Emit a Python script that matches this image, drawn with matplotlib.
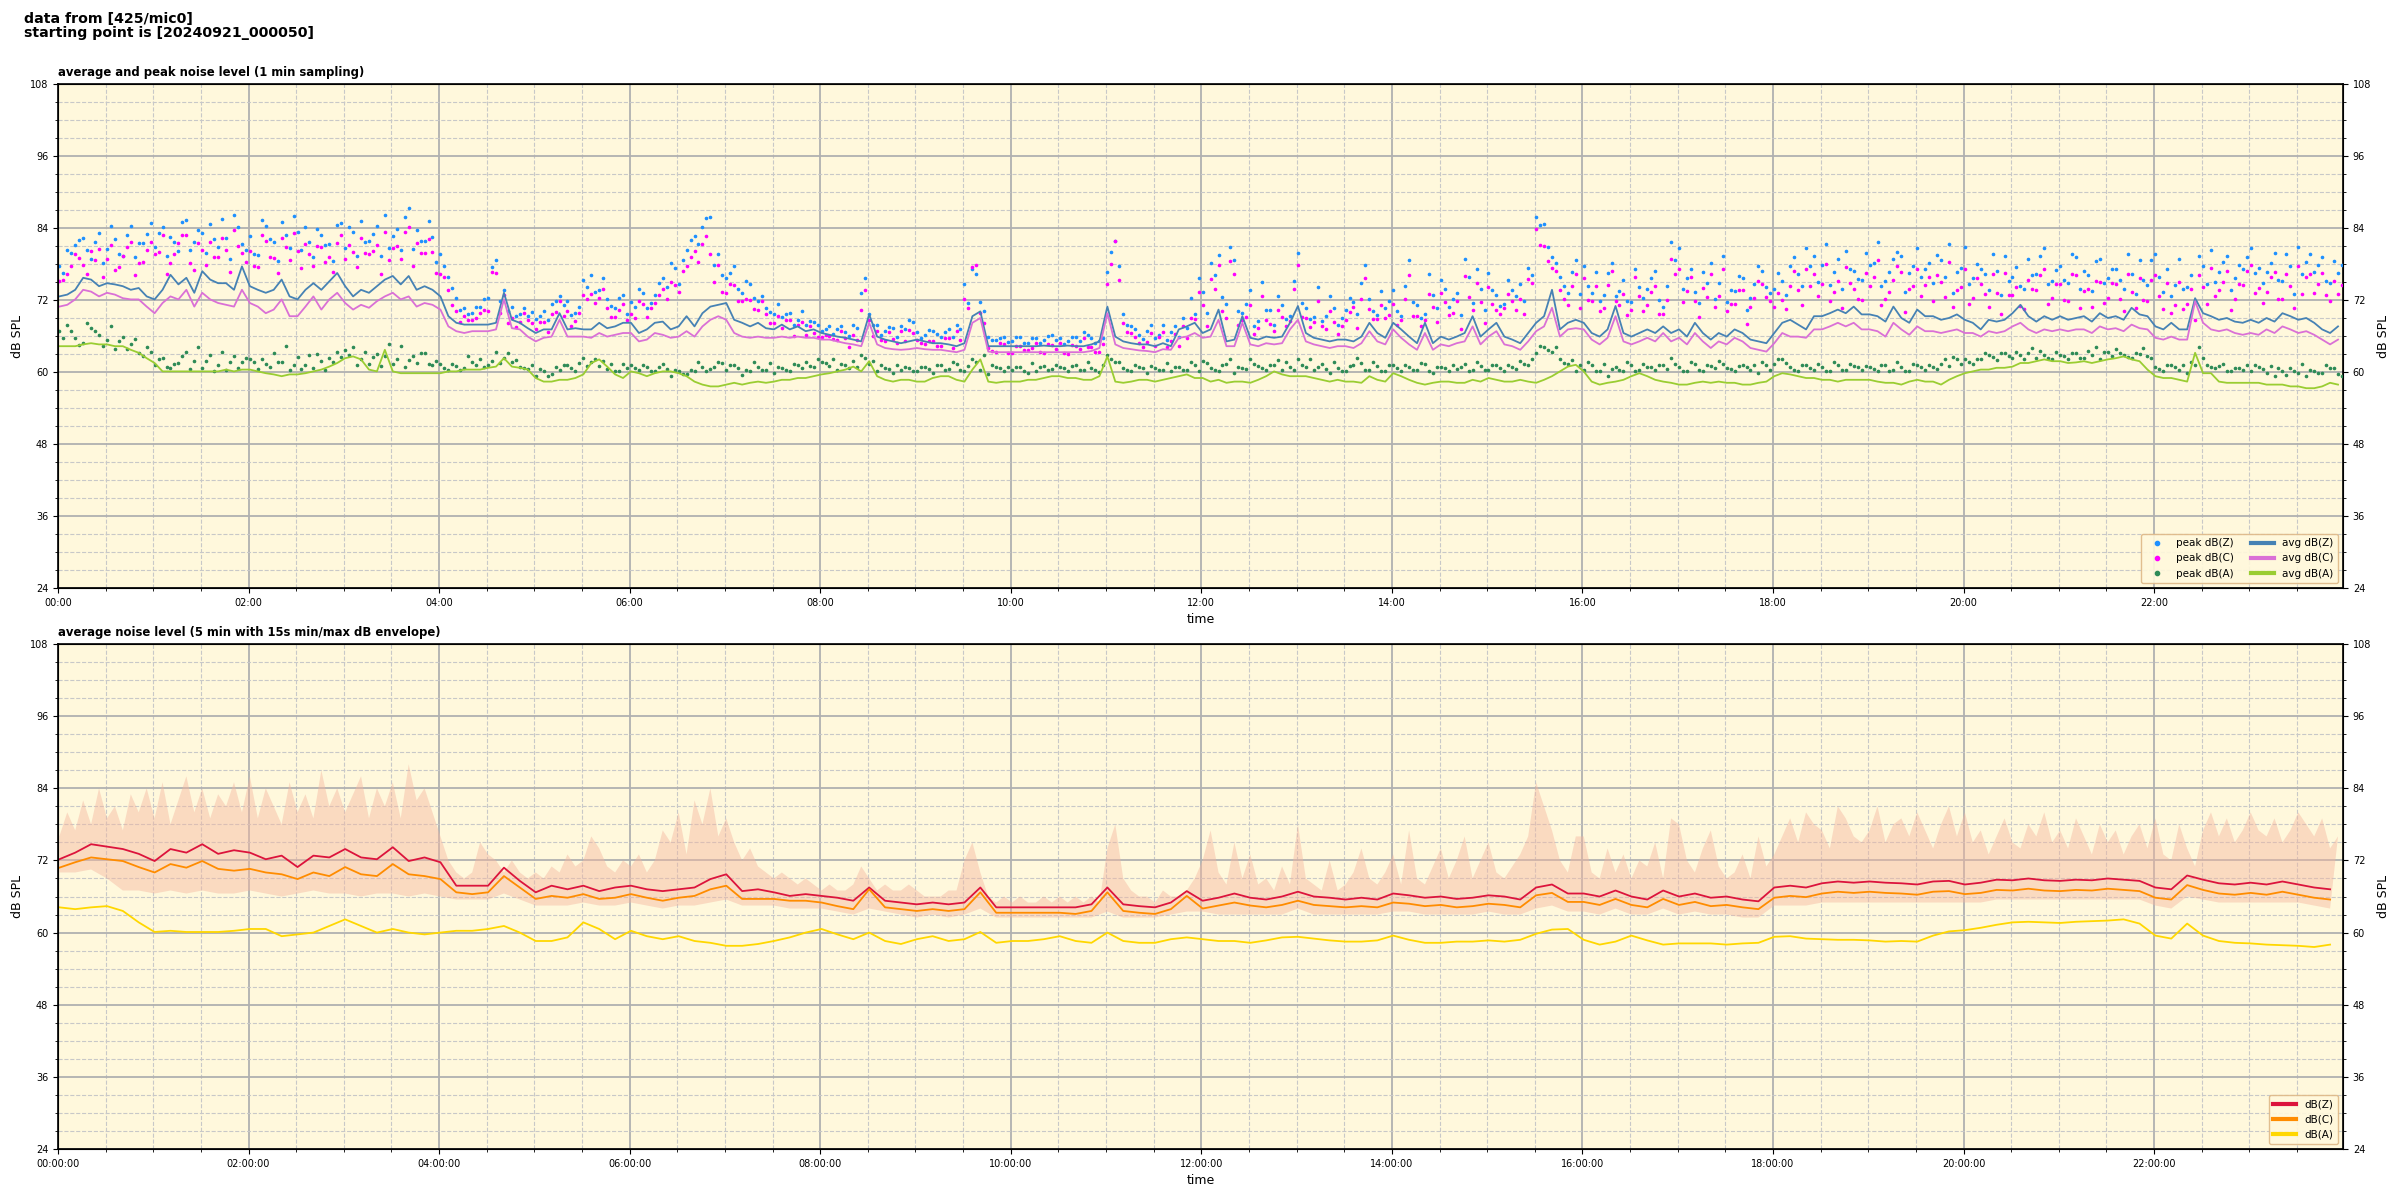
import numpy as np
import matplotlib
matplotlib.use("Agg")
import matplotlib.pyplot as plt
import matplotlib.dates as mdates
from matplotlib.ticker import MultipleLocator

# ---------------- data ----------------
# top panel: 1-min averages, given here at 5-min steps (rows = 1 hour, 12 values)
avg_z = [
    [72.6, 72.9, 73.7, 75.7, 75.4, 74.3, 74.8, 74.6, 74.3, 73.7, 74.0, 72.6],
    [72.1, 73.7, 76.2, 74.6, 75.7, 73.2, 76.8, 75.4, 74.8, 74.8, 73.7, 77.6],
    [74.3, 73.7, 73.2, 73.7, 75.4, 72.6, 72.1, 73.7, 74.8, 73.7, 75.1, 76.5],
    [74.3, 72.6, 73.7, 73.2, 74.3, 75.4, 76.0, 74.6, 76.0, 73.7, 74.3, 73.7],
    [72.6, 69.3, 68.2, 67.9, 67.9, 67.9, 67.9, 68.2, 73.2, 68.7, 68.2, 67.3],
    [66.5, 67.1, 67.1, 69.8, 67.1, 67.3, 67.1, 67.1, 68.2, 67.3, 67.6, 68.2],
    [68.2, 66.5, 67.1, 68.2, 68.4, 67.1, 67.6, 69.3, 67.6, 69.8, 70.9, 71.2],
    [71.5, 68.7, 68.2, 67.6, 68.2, 67.3, 67.1, 67.9, 67.1, 67.6, 66.8, 67.1],
    [66.5, 66.2, 65.9, 65.7, 65.4, 65.1, 69.6, 65.9, 65.4, 65.1, 64.8, 65.1],
    [65.4, 65.1, 64.8, 64.8, 64.6, 64.3, 64.8, 69.3, 70.1, 64.3, 64.3, 64.3],
    [64.3, 64.3, 64.3, 64.3, 64.4, 64.3, 64.3, 64.4, 64.3, 64.3, 64.6, 65.1],
    [70.9, 65.9, 65.1, 64.8, 64.6, 64.6, 64.3, 64.8, 64.3, 67.1, 67.6, 68.2],
    [66.5, 67.1, 70.4, 65.1, 65.4, 69.3, 65.7, 65.4, 65.9, 65.7, 65.9, 68.2],
    [71.0, 66.5, 65.7, 65.4, 65.1, 65.4, 65.4, 65.1, 65.9, 68.2, 66.5, 65.7],
    [68.2, 67.1, 65.9, 64.8, 68.2, 64.8, 65.9, 65.4, 65.9, 66.5, 69.3, 65.9],
    [67.1, 68.2, 65.9, 65.4, 64.8, 66.5, 68.2, 69.3, 73.7, 67.1, 68.2, 68.7],
    [68.2, 66.5, 65.9, 67.1, 71.0, 66.5, 65.9, 66.5, 67.1, 66.5, 67.6, 66.5],
    [67.1, 65.9, 68.2, 66.5, 65.4, 66.5, 65.9, 67.1, 66.5, 65.4, 65.1, 64.8],
    [66.5, 68.2, 68.7, 67.9, 67.1, 69.3, 69.3, 69.8, 70.4, 69.8, 70.9, 69.6],
    [69.6, 69.3, 68.4, 70.9, 69.0, 68.2, 70.4, 69.3, 69.3, 68.7, 69.0, 69.6],
    [68.7, 68.2, 67.1, 68.7, 68.4, 68.7, 69.8, 71.2, 69.3, 68.4, 69.3, 68.7],
    [69.3, 68.7, 69.0, 69.3, 68.4, 69.8, 69.0, 69.3, 68.7, 70.7, 69.6, 69.3],
    [67.6, 67.1, 68.2, 67.1, 67.1, 72.3, 69.8, 69.3, 68.7, 69.0, 68.4, 68.2],
    [68.7, 68.2, 69.0, 68.4, 69.8, 69.3, 68.7, 69.0, 68.2, 67.1, 66.5, 67.6],
]
avg_c = [
    [70.9, 71.2, 72.1, 73.7, 73.4, 72.6, 73.2, 72.9, 72.3, 72.1, 72.1, 70.9],
    [69.8, 71.5, 72.6, 72.1, 73.7, 70.9, 73.2, 72.1, 71.5, 71.2, 70.9, 73.7],
    [71.5, 70.9, 69.8, 70.4, 72.1, 69.3, 69.3, 70.9, 72.6, 70.4, 72.1, 73.2],
    [71.5, 70.4, 71.2, 70.7, 71.8, 72.6, 73.2, 72.1, 72.6, 70.9, 71.5, 71.2],
    [70.4, 67.6, 66.8, 66.5, 66.8, 66.8, 66.8, 67.1, 72.1, 67.3, 67.1, 65.9],
    [65.1, 65.7, 65.9, 68.7, 65.9, 65.9, 65.9, 65.7, 66.5, 65.9, 66.2, 66.5],
    [66.5, 65.1, 65.4, 66.5, 66.2, 65.7, 65.9, 66.8, 65.9, 67.6, 68.7, 69.3],
    [68.7, 66.5, 65.9, 65.7, 65.9, 65.7, 65.7, 65.9, 65.7, 65.9, 65.7, 65.7],
    [65.4, 65.4, 65.1, 64.8, 64.6, 64.3, 68.2, 64.6, 64.0, 63.8, 63.7, 63.8],
    [64.0, 63.8, 63.7, 63.7, 63.5, 63.3, 63.7, 68.2, 69.0, 63.4, 63.3, 63.3],
    [63.3, 63.3, 63.3, 63.3, 63.3, 63.3, 63.3, 63.3, 63.3, 63.3, 63.5, 64.0],
    [69.8, 64.6, 64.0, 63.8, 63.6, 63.5, 63.3, 63.8, 63.7, 65.7, 65.9, 66.5],
    [65.7, 65.9, 68.7, 64.3, 64.3, 68.2, 64.6, 64.3, 64.8, 64.6, 64.8, 67.1],
    [68.7, 65.1, 64.6, 64.3, 64.0, 64.3, 64.3, 64.0, 64.8, 66.8, 65.1, 64.6],
    [67.1, 65.7, 64.6, 63.7, 66.5, 63.7, 64.6, 64.3, 64.8, 65.1, 67.6, 64.6],
    [65.9, 66.8, 64.6, 64.3, 63.7, 65.1, 66.8, 67.6, 70.7, 65.9, 67.1, 67.3],
    [67.1, 65.4, 64.6, 65.7, 69.3, 65.1, 64.6, 65.1, 65.7, 65.1, 66.5, 65.1],
    [65.7, 64.6, 66.5, 65.1, 64.0, 65.1, 64.6, 65.7, 65.1, 64.0, 63.7, 63.4],
    [64.8, 66.5, 65.9, 65.9, 65.7, 67.1, 67.1, 67.6, 68.2, 67.6, 68.2, 67.1],
    [67.1, 66.8, 65.9, 68.2, 67.1, 66.2, 67.6, 66.8, 66.8, 66.5, 66.8, 67.1],
    [66.5, 66.5, 65.9, 66.8, 66.5, 66.8, 67.6, 68.2, 67.1, 66.5, 67.1, 66.8],
    [67.1, 66.8, 67.1, 67.1, 66.5, 67.6, 67.1, 67.3, 66.8, 67.9, 67.3, 67.1],
    [65.7, 65.4, 65.9, 65.4, 65.4, 71.8, 68.2, 67.1, 66.8, 67.1, 66.5, 66.2],
    [66.5, 66.2, 67.1, 66.5, 67.6, 67.1, 66.5, 66.8, 66.2, 65.4, 64.6, 65.4],
]
avg_a = [
    [64.3, 64.3, 64.3, 64.6, 64.8, 64.6, 64.6, 64.3, 64.3, 63.7, 63.2, 62.3],
    [61.5, 60.1, 60.1, 60.1, 60.1, 60.1, 60.1, 60.1, 60.1, 60.4, 60.1, 60.4],
    [60.4, 60.1, 59.8, 59.6, 59.3, 59.6, 59.6, 59.8, 60.1, 60.4, 60.9, 61.5],
    [62.3, 62.6, 62.1, 60.4, 60.1, 63.7, 60.1, 59.8, 59.8, 59.8, 59.8, 59.8],
    [59.8, 60.1, 60.1, 60.4, 60.4, 60.4, 60.7, 60.9, 62.3, 60.9, 60.7, 60.4],
    [59.0, 58.4, 58.4, 58.7, 58.7, 59.0, 59.6, 61.5, 62.1, 60.9, 59.6, 59.0],
    [60.1, 59.8, 59.3, 59.8, 60.1, 60.1, 59.8, 59.3, 58.4, 57.9, 57.6, 57.6],
    [57.9, 58.2, 57.9, 58.2, 58.4, 58.2, 58.4, 58.7, 58.7, 59.0, 59.0, 59.3],
    [59.6, 59.8, 60.1, 60.4, 60.9, 60.1, 61.8, 59.3, 58.7, 58.4, 58.7, 58.7],
    [58.4, 58.4, 59.0, 59.3, 59.3, 58.7, 58.4, 60.4, 62.1, 58.4, 58.2, 58.4],
    [58.4, 58.4, 58.7, 58.7, 59.0, 59.3, 59.3, 59.0, 59.0, 58.7, 58.7, 59.3],
    [62.6, 58.4, 58.2, 58.4, 58.7, 58.7, 58.4, 58.7, 59.0, 59.3, 59.6, 59.0],
    [59.0, 58.4, 58.7, 58.2, 58.4, 58.4, 58.2, 58.7, 59.3, 60.1, 59.6, 59.3],
    [59.3, 59.3, 59.0, 58.7, 58.4, 58.7, 58.4, 58.4, 58.2, 59.3, 58.7, 58.4],
    [59.8, 59.3, 58.7, 58.2, 57.9, 58.2, 58.4, 58.4, 58.2, 58.2, 58.7, 58.4],
    [59.0, 58.7, 58.4, 58.4, 58.7, 58.4, 58.2, 58.7, 59.3, 60.1, 60.9, 61.2],
    [60.1, 58.4, 57.9, 58.2, 58.4, 58.7, 59.3, 59.8, 59.3, 58.7, 58.4, 58.2],
    [57.9, 57.9, 58.2, 58.4, 58.2, 58.4, 58.2, 58.2, 57.9, 57.9, 58.2, 58.4],
    [59.3, 59.8, 59.6, 59.3, 59.0, 59.0, 58.7, 58.7, 58.4, 58.7, 58.7, 58.7],
    [58.7, 58.4, 58.2, 58.2, 57.9, 58.4, 58.7, 58.4, 58.4, 57.9, 58.7, 59.3],
    [59.8, 60.1, 60.4, 60.4, 60.7, 60.7, 60.9, 61.5, 61.5, 61.8, 62.1, 61.8],
    [61.8, 61.5, 61.6, 61.8, 61.5, 61.8, 62.1, 62.3, 62.6, 62.1, 61.8, 60.4],
    [59.3, 59.0, 59.0, 58.7, 58.4, 63.2, 59.8, 59.8, 58.4, 58.2, 58.2, 58.2],
    [58.2, 58.2, 57.9, 57.9, 57.9, 57.6, 57.6, 57.3, 57.3, 57.6, 58.2, 57.9],
]

# top panel: 1-min peaks at 5-min steps (on the 5-min grid)
peak_z = [
    [77.6, 80.3, 81.2, 82.4, 78.9, 83.1, 80.5, 82.2, 79.4, 84.3, 81.5, 83.0],
    [80.8, 84.2, 82.5, 80.1, 85.4, 81.7, 83.2, 84.6, 80.9, 82.4, 86.1, 81.3],
    [82.7, 79.5, 84.3, 81.6, 85.0, 80.7, 83.4, 84.1, 79.2, 82.9, 81.4, 84.5],
    [80.6, 83.3, 85.1, 81.8, 84.4, 86.2, 82.7, 80.3, 87.3, 83.6, 81.9, 82.5],
    [79.6, 75.8, 72.3, 70.6, 69.8, 70.9, 72.4, 78.7, 73.6, 70.8, 69.7, 69.3],
    [68.8, 70.2, 71.4, 72.6, 71.8, 69.9, 75.3, 76.1, 73.6, 72.2, 70.7, 72.8],
    [71.6, 73.8, 70.7, 72.9, 75.6, 78.2, 74.7, 80.3, 82.6, 84.2, 85.8, 79.6],
    [75.7, 77.6, 73.2, 74.6, 71.8, 70.6, 69.7, 69.2, 69.8, 68.6, 67.9, 68.3],
    [66.8, 67.6, 67.2, 66.7, 67.9, 73.2, 69.6, 67.8, 66.9, 67.3, 67.7, 68.6],
    [66.7, 66.2, 66.8, 65.9, 67.1, 67.8, 74.6, 77.2, 71.6, 65.8, 65.3, 65.9],
    [65.2, 65.8, 64.9, 65.7, 65.3, 66.1, 65.7, 65.1, 65.8, 66.6, 65.6, 65.2],
    [76.6, 81.8, 69.7, 67.6, 66.2, 66.8, 65.7, 67.8, 66.6, 65.9, 67.3, 69.6],
    [73.4, 78.2, 79.5, 71.3, 78.7, 69.9, 73.6, 68.5, 70.3, 67.8, 71.2, 69.4],
    [79.8, 70.6, 69.2, 68.5, 72.6, 67.8, 70.3, 71.7, 74.8, 72.1, 69.5, 70.6],
    [73.7, 69.4, 78.6, 71.2, 69.6, 72.8, 75.3, 70.8, 73.1, 78.8, 71.5, 73.9],
    [76.5, 72.8, 71.3, 73.7, 74.6, 77.4, 85.8, 84.6, 79.1, 75.8, 73.2, 78.7],
    [77.6, 73.2, 71.8, 76.5, 72.7, 75.4, 71.7, 74.1, 73.8, 76.9, 70.8, 81.6],
    [80.7, 75.6, 73.3, 76.7, 78.2, 74.8, 71.6, 73.5, 75.7, 72.4, 77.6, 74.2],
    [73.8, 75.2, 77.6, 76.4, 80.7, 79.3, 77.8, 74.5, 78.8, 80.2, 76.8, 75.3],
    [77.8, 81.6, 75.1, 78.8, 79.4, 76.5, 80.7, 77.2, 74.8, 78.7, 81.3, 76.6],
    [80.8, 75.6, 77.2, 73.7, 76.8, 79.3, 75.8, 74.4, 78.8, 76.3, 80.6, 75.1],
    [77.7, 74.8, 79.2, 76.8, 73.5, 78.8, 75.6, 77.1, 73.8, 76.3, 78.6, 74.5],
    [79.7, 73.4, 72.6, 78.8, 74.2, 71.8, 77.6, 80.4, 76.7, 79.3, 75.6, 77.2],
    [80.6, 77.3, 76.7, 79.8, 75.2, 77.6, 80.8, 78.4, 76.6, 79.2, 74.8, 76.5],
]
peak_c = [
    [75.1, 76.4, 79.7, 77.9, 80.2, 80.5, 78.8, 77.0, 79.3, 81.6, 78.1, 80.4],
    [79.7, 82.9, 78.2, 81.5, 82.8, 77.0, 80.3, 81.6, 79.1, 80.4, 83.7, 79.9],
    [80.2, 77.5, 81.8, 79.0, 82.3, 78.6, 80.1, 81.4, 77.7, 80.9, 79.2, 81.5],
    [78.8, 80.0, 82.3, 79.6, 81.1, 83.4, 80.7, 78.9, 84.2, 81.5, 79.8, 80.0],
    [76.3, 73.6, 70.1, 69.4, 68.7, 69.9, 70.2, 76.5, 72.8, 69.0, 68.3, 68.6],
    [67.1, 68.4, 69.7, 71.9, 70.2, 68.5, 72.8, 73.0, 72.3, 70.6, 69.1, 71.4],
    [69.7, 71.9, 69.2, 71.5, 73.8, 75.0, 73.3, 77.6, 80.1, 81.4, 79.7, 77.9],
    [73.2, 74.5, 71.8, 72.0, 70.3, 69.6, 68.1, 67.4, 68.7, 67.9, 66.2, 66.5],
    [65.8, 66.0, 65.3, 65.6, 66.1, 70.4, 68.7, 66.9, 65.2, 65.5, 66.8, 67.0],
    [65.3, 64.6, 65.1, 64.4, 65.7, 66.9, 72.2, 77.5, 69.8, 64.0, 63.3, 64.6],
    [63.1, 64.4, 63.7, 64.9, 63.2, 64.5, 64.8, 63.0, 64.3, 65.6, 64.1, 63.4],
    [74.7, 81.9, 68.2, 66.5, 64.8, 65.0, 64.3, 66.6, 65.1, 64.4, 65.7, 68.9],
    [71.2, 75.5, 77.8, 69.0, 76.3, 68.6, 71.1, 67.4, 68.7, 66.9, 69.2, 68.5],
    [77.8, 69.0, 68.3, 67.6, 70.1, 66.4, 68.7, 70.9, 72.2, 70.5, 68.8, 69.0],
    [71.3, 68.6, 76.1, 69.4, 68.7, 70.9, 73.2, 69.5, 71.8, 76.0, 70.3, 71.6],
    [74.1, 70.4, 70.7, 71.9, 72.2, 75.5, 83.8, 81.0, 77.3, 73.6, 71.1, 76.4],
    [75.7, 71.9, 70.2, 74.5, 71.8, 73.0, 70.3, 72.6, 71.1, 74.4, 69.7, 78.9],
    [77.2, 73.5, 71.8, 74.0, 76.3, 72.6, 70.1, 71.4, 73.7, 70.9, 75.2, 72.5],
    [70.8, 72.0, 74.3, 73.6, 77.1, 76.4, 74.7, 71.9, 75.2, 77.5, 73.8, 72.0],
    [74.3, 78.6, 72.1, 75.4, 76.7, 73.9, 77.2, 74.5, 71.8, 75.0, 78.3, 73.6],
    [77.1, 72.4, 74.7, 70.9, 73.2, 76.5, 72.8, 71.0, 75.3, 73.6, 77.1, 72.4],
    [74.7, 71.9, 76.2, 73.5, 70.8, 75.0, 72.3, 74.6, 70.1, 73.4, 75.7, 71.9],
    [76.2, 70.5, 69.8, 75.0, 71.3, 68.6, 74.1, 77.4, 73.7, 76.9, 72.2, 74.5],
    [77.8, 74.0, 73.3, 76.6, 72.1, 74.4, 77.7, 75.9, 73.2, 76.5, 71.8, 73.0],
]
peak_a = [
    [66.8, 67.9, 65.6, 64.9, 67.3, 66.1, 65.4, 63.8, 65.9, 64.7, 63.2, 64.1],
    [61.2, 62.4, 60.7, 61.5, 63.3, 61.8, 60.6, 62.9, 61.1, 60.4, 62.7, 61.6],
    [62.2, 60.5, 61.4, 63.1, 61.7, 60.3, 62.5, 61.2, 60.6, 61.9, 62.3, 63.4],
    [63.6, 64.2, 62.1, 61.4, 63.0, 62.6, 61.3, 64.4, 62.0, 61.5, 63.2, 61.1],
    [61.4, 60.3, 61.0, 60.6, 61.7, 62.2, 61.1, 63.4, 62.3, 61.6, 60.9, 60.5],
    [59.4, 60.2, 59.7, 60.4, 61.2, 60.1, 62.3, 61.6, 61.0, 60.5, 60.2, 61.3],
    [61.1, 60.4, 60.8, 60.2, 61.3, 59.4, 60.1, 59.6, 60.2, 60.8, 60.5, 61.7],
    [60.3, 61.1, 59.5, 60.2, 60.9, 60.4, 59.8, 60.7, 60.1, 61.2, 61.6, 60.9],
    [61.6, 61.0, 60.4, 61.2, 61.8, 62.9, 61.3, 60.2, 60.7, 59.9, 60.3, 60.6],
    [60.2, 60.9, 59.8, 61.1, 60.5, 61.3, 60.1, 62.2, 60.4, 59.7, 60.8, 60.2],
    [60.3, 60.8, 59.9, 60.2, 61.0, 60.5, 60.9, 60.1, 61.2, 60.4, 60.7, 60.0],
    [62.8, 61.7, 60.6, 60.2, 60.9, 59.8, 60.7, 60.3, 60.1, 60.9, 60.4, 61.2],
    [61.9, 60.7, 60.2, 61.3, 59.8, 60.6, 62.1, 61.0, 60.4, 61.2, 60.3, 60.8],
    [62.1, 60.8, 60.3, 61.4, 59.9, 60.7, 60.2, 61.1, 61.5, 60.4, 61.0, 60.1],
    [61.2, 60.1, 60.8, 60.3, 61.4, 59.8, 60.9, 60.2, 60.5, 61.3, 60.4, 61.0],
    [60.4, 61.1, 60.2, 60.8, 61.9, 61.2, 63.1, 64.2, 63.4, 62.1, 61.3, 60.2],
    [60.3, 61.2, 60.1, 59.4, 60.8, 60.2, 61.1, 60.4, 60.9, 60.3, 61.2, 62.4],
    [60.8, 60.2, 61.3, 60.1, 61.0, 61.8, 60.7, 60.2, 61.1, 60.4, 59.9, 61.2],
    [61.3, 62.1, 60.9, 60.2, 61.1, 60.4, 60.8, 60.2, 61.2, 60.3, 61.0, 60.4],
    [60.9, 60.2, 61.1, 60.3, 60.8, 60.1, 61.2, 60.4, 60.9, 61.3, 61.0, 62.1],
    [62.2, 61.3, 62.1, 62.8, 62.0, 63.1, 62.4, 62.9, 63.2, 62.3, 62.8, 62.1],
    [62.9, 62.2, 63.1, 62.4, 62.8, 62.1, 63.3, 63.8, 62.9, 62.3, 63.0, 62.6],
    [60.8, 60.2, 61.1, 60.4, 59.9, 61.2, 62.4, 60.8, 61.0, 60.1, 60.7, 60.3],
    [60.2, 60.8, 59.9, 59.3, 60.1, 60.7, 59.8, 59.4, 60.2, 59.9, 60.6, 59.7],
]
# top panel: further 1-min peaks, between the 5-min grid points (2.5 min later)
peak_z_mid = [
    [76.5, 79.8, 82.0, 80.3, 81.6, 78.1, 84.4, 79.7, 82.9, 79.2, 81.5, 84.8],
    [83.1, 79.4, 81.7, 85.0, 80.3, 83.6, 79.9, 82.2, 85.5, 78.8, 84.1, 80.4],
    [79.7, 85.3, 82.2, 78.5, 82.8, 86.0, 80.3, 81.6, 83.9, 81.2, 78.5, 84.8],
    [84.1, 79.4, 81.7, 83.0, 79.3, 80.6, 83.9, 85.8, 80.5, 81.8, 85.1, 78.4],
    [77.7, 74.0, 70.3, 69.6, 70.9, 72.2, 77.5, 71.8, 70.1, 69.4, 70.7, 70.0],
    [69.3, 68.6, 71.9, 71.2, 69.5, 70.8, 74.1, 73.4, 75.7, 71.0, 72.3, 69.6],
    [70.9, 73.2, 71.5, 74.8, 74.1, 77.4, 78.7, 82.0, 81.3, 85.6, 77.9, 76.2],
    [76.5, 73.8, 75.1, 72.4, 72.7, 70.0, 71.3, 69.6, 67.9, 70.2, 68.5, 67.8],
    [67.1, 66.4, 67.7, 66.0, 67.3, 75.6, 67.9, 66.2, 67.5, 65.8, 67.1, 68.4],
    [65.7, 67.0, 66.3, 66.6, 65.9, 67.2, 71.5, 76.3, 70.1, 65.4, 65.7, 65.0],
    [65.9, 64.8, 65.7, 64.9, 66.0, 65.3, 64.6, 65.9, 65.2, 66.1, 64.8, 65.7],
    [80.0, 77.6, 67.9, 67.2, 65.5, 67.8, 66.1, 65.4, 67.7, 69.0, 72.3, 75.6],
    [69.9, 76.2, 72.5, 80.8, 70.1, 71.4, 67.7, 75.0, 70.3, 72.6, 68.9, 75.2],
    [71.5, 68.8, 74.1, 69.4, 70.7, 69.0, 72.3, 69.6, 77.9, 70.2, 73.5, 71.8],
    [70.1, 74.4, 71.7, 69.0, 76.3, 70.6, 73.9, 72.2, 69.5, 75.8, 77.1, 70.4],
    [73.7, 71.0, 75.3, 72.6, 71.9, 76.2, 84.5, 80.8, 78.1, 74.4, 76.7, 73.0],
    [74.3, 76.6, 72.9, 78.2, 73.5, 71.8, 77.1, 72.4, 75.7, 72.0, 74.3, 78.6],
    [73.9, 77.2, 71.5, 74.8, 72.1, 79.4, 73.7, 76.0, 70.3, 74.6, 76.9, 73.2],
    [76.5, 72.8, 79.1, 74.4, 77.7, 75.0, 81.3, 76.6, 73.9, 77.2, 75.5, 79.8],
    [78.1, 74.4, 76.7, 80.0, 73.3, 77.6, 75.9, 78.2, 79.5, 75.8, 73.1, 77.4],
    [74.7, 78.0, 76.3, 79.6, 72.9, 75.2, 77.5, 73.8, 76.1, 79.4, 74.7, 77.0],
    [75.3, 79.6, 73.9, 76.2, 78.5, 74.8, 77.1, 75.4, 79.7, 73.0, 75.3, 78.6],
    [75.9, 77.2, 74.5, 73.8, 76.1, 79.4, 74.7, 75.0, 78.3, 73.6, 77.9, 79.2],
    [76.5, 74.8, 78.1, 75.4, 79.7, 73.0, 76.3, 79.6, 77.9, 75.2, 78.5, 77.8],
]
peak_c_mid = [
    [75.4, 77.7, 79.0, 76.3, 78.6, 75.9, 81.2, 77.5, 80.8, 76.1, 78.4, 81.7],
    [80.0, 76.3, 79.6, 82.9, 78.2, 81.5, 77.8, 79.1, 82.4, 76.7, 81.0, 78.3],
    [77.6, 82.9, 79.2, 76.5, 80.8, 83.1, 77.4, 79.7, 81.0, 78.3, 76.6, 82.9],
    [81.2, 77.5, 79.8, 80.1, 76.4, 78.7, 81.0, 83.3, 77.6, 79.9, 82.2, 76.5],
    [75.8, 71.1, 68.4, 68.7, 69.0, 70.3, 76.6, 69.9, 68.2, 67.5, 69.8, 68.1],
    [68.4, 66.7, 70.0, 69.3, 67.6, 69.9, 72.2, 71.5, 73.8, 69.1, 70.4, 68.7],
    [69.0, 71.3, 70.6, 72.9, 72.2, 74.5, 76.8, 79.1, 78.4, 82.7, 75.0, 73.3],
    [74.6, 71.9, 72.2, 70.5, 71.8, 68.1, 69.4, 68.7, 66.0, 68.3, 67.6, 65.9],
    [66.2, 65.5, 66.8, 64.1, 65.4, 73.7, 66.0, 65.3, 66.6, 64.9, 65.2, 66.5],
    [64.8, 65.1, 64.4, 65.7, 64.0, 65.3, 70.6, 77.9, 68.2, 63.5, 64.8, 63.1],
    [64.4, 63.7, 64.0, 63.3, 64.6, 63.9, 63.2, 64.5, 63.8, 64.1, 63.4, 64.7],
    [78.0, 75.3, 66.6, 65.9, 64.2, 66.5, 65.8, 64.1, 66.4, 67.7, 69.0, 73.3],
    [67.6, 73.9, 70.2, 78.5, 67.8, 69.1, 66.4, 72.7, 68.0, 70.3, 67.6, 73.9],
    [69.2, 67.5, 71.8, 67.1, 68.4, 67.7, 70.0, 67.3, 75.6, 68.9, 71.2, 69.5],
    [67.8, 72.1, 69.4, 67.7, 73.0, 68.3, 71.6, 69.9, 67.2, 72.5, 74.8, 68.1],
    [71.4, 69.7, 73.0, 70.3, 69.6, 74.9, 81.2, 78.5, 76.8, 72.1, 74.4, 70.7],
    [72.0, 74.3, 70.6, 76.9, 71.2, 69.5, 75.8, 70.1, 73.4, 69.7, 72.0, 76.3],
    [71.6, 75.9, 69.2, 72.5, 70.8, 77.1, 71.4, 73.7, 68.0, 72.3, 74.6, 71.9],
    [73.2, 70.5, 76.8, 71.1, 74.4, 72.7, 78.0, 73.3, 70.6, 74.9, 72.2, 76.5],
    [75.8, 71.1, 73.4, 77.7, 70.0, 74.3, 72.6, 75.9, 76.2, 72.5, 70.8, 74.1],
    [71.4, 75.7, 73.0, 76.3, 69.6, 72.9, 74.2, 70.5, 73.8, 76.1, 71.4, 74.7],
    [72.0, 76.3, 70.6, 73.9, 75.2, 71.5, 74.8, 72.1, 76.4, 70.7, 72.0, 75.3],
    [72.6, 74.9, 71.2, 70.5, 73.8, 76.1, 71.4, 72.7, 75.0, 70.3, 74.6, 76.9],
    [73.2, 71.5, 75.8, 72.1, 76.4, 70.7, 73.0, 76.3, 74.6, 72.9, 75.2, 74.5],
]
peak_a_mid = [
    [65.7, 66.9, 64.5, 68.2, 66.8, 64.4, 67.6, 65.2, 63.9, 65.5, 62.7, 63.3],
    [62.1, 60.8, 61.4, 62.6, 60.5, 64.1, 61.9, 60.2, 63.4, 61.7, 60.7, 62.3],
    [61.6, 62.2, 60.9, 61.6, 64.3, 61.1, 60.5, 62.8, 63.0, 60.3, 61.7, 62.5],
    [62.8, 61.1, 63.4, 62.5, 61.0, 64.6, 62.1, 60.8, 62.7, 63.1, 61.4, 61.9],
    [60.7, 61.3, 60.4, 62.6, 61.2, 60.8, 61.8, 61.5, 63.1, 62.0, 60.6, 61.2],
    [60.5, 59.3, 60.8, 61.1, 60.6, 61.5, 61.0, 62.2, 61.8, 61.4, 60.2, 60.7],
    [60.6, 61.2, 60.1, 60.8, 60.5, 60.4, 59.7, 60.3, 61.6, 60.2, 60.9, 61.5],
    [61.1, 60.6, 60.4, 61.7, 60.3, 61.5, 60.8, 60.3, 61.4, 60.7, 61.0, 62.1],
    [61.5, 62.1, 61.3, 60.6, 60.9, 62.3, 61.8, 61.1, 60.5, 61.2, 60.8, 60.1],
    [60.9, 60.5, 61.1, 60.3, 61.7, 60.4, 61.0, 61.6, 62.8, 61.1, 60.6, 60.9],
    [60.8, 60.1, 61.5, 60.9, 60.3, 61.1, 60.6, 61.0, 60.4, 61.7, 60.3, 61.1],
    [62.1, 61.6, 60.3, 61.1, 60.7, 61.0, 60.4, 61.5, 60.9, 60.3, 61.6, 60.2],
    [61.5, 60.3, 61.1, 62.2, 60.8, 60.5, 61.3, 60.7, 61.1, 62.0, 61.6, 60.3],
    [61.1, 62.2, 60.8, 60.5, 61.7, 60.1, 61.0, 62.4, 60.3, 61.6, 60.2, 61.1],
    [60.6, 61.1, 60.3, 61.5, 60.1, 60.9, 60.6, 61.1, 60.8, 60.2, 61.7, 60.4],
    [61.2, 60.6, 61.1, 60.5, 61.3, 62.1, 64.3, 63.6, 64.1, 61.5, 62.0, 61.1],
    [61.6, 60.1, 61.3, 60.5, 60.4, 61.7, 60.1, 61.4, 60.8, 61.2, 60.5, 61.3],
    [60.2, 61.6, 60.3, 61.2, 60.7, 61.3, 60.5, 61.0, 60.8, 61.1, 61.6, 60.3],
    [62.1, 61.5, 60.3, 61.1, 60.6, 61.3, 60.1, 61.7, 60.3, 61.4, 60.8, 61.0],
    [60.5, 61.2, 60.1, 61.6, 60.2, 61.3, 60.8, 61.2, 60.5, 62.1, 62.5, 61.3],
    [61.6, 62.1, 63.2, 62.5, 63.1, 62.7, 63.3, 62.1, 64.0, 63.5, 62.4, 63.3],
    [62.6, 63.1, 62.3, 63.5, 64.1, 63.3, 62.7, 63.1, 62.5, 63.2, 64.0, 62.4],
    [60.5, 61.1, 60.8, 61.2, 61.6, 64.1, 61.2, 60.7, 61.4, 60.2, 60.6, 61.1],
    [61.1, 60.5, 61.0, 60.7, 59.5, 60.1, 61.4, 60.3, 59.8, 61.1, 60.6, 59.4],
]

# bottom panel: 5-min averages at 10-min steps (rows = 1 hour, 6 values)
bot_z = [
    [72.2, 73.3, 74.7, 74.3, 73.9, 73.1], [71.9, 73.9, 73.3, 74.7, 73.1, 73.7],
    [73.3, 72.2, 72.8, 70.9, 72.8, 72.5], [73.9, 72.5, 72.2, 74.2, 71.9, 72.5],
    [71.7, 67.8, 67.8, 67.8, 70.8, 68.6], [66.7, 67.8, 67.2, 67.8, 66.9, 67.5],
    [67.8, 67.2, 66.9, 67.2, 67.5, 68.9], [69.7, 66.9, 67.2, 66.7, 66.1, 66.4],
    [66.1, 65.8, 65.3, 67.5, 65.3, 65.0], [64.7, 65.0, 64.7, 65.0, 67.5, 64.2],
    [64.2, 64.2, 64.2, 64.2, 64.2, 64.7], [67.5, 64.7, 64.4, 64.2, 65.0, 66.9],
    [65.3, 65.8, 66.5, 65.8, 65.5, 66.0], [66.8, 66.0, 65.8, 65.5, 65.8, 65.5],
    [66.5, 66.2, 65.8, 66.0, 65.6, 65.8], [66.2, 66.0, 65.5, 67.5, 68.0, 66.5],
    [66.5, 66.0, 67.0, 66.0, 65.5, 67.0], [66.0, 66.5, 65.8, 66.0, 65.5, 65.2],
    [67.5, 67.8, 67.5, 68.2, 68.5, 68.3], [68.5, 68.3, 68.2, 68.0, 68.5, 68.6],
    [68.0, 68.3, 68.8, 68.7, 69.0, 68.7], [68.6, 68.8, 68.7, 69.0, 68.8, 68.6],
    [67.5, 67.2, 69.5, 68.8, 68.2, 68.0], [68.3, 68.0, 68.5, 68.0, 67.5, 67.2],
]
bot_c = [
    [70.8, 71.7, 72.5, 72.2, 71.9, 70.9], [70.0, 71.4, 70.8, 71.9, 70.6, 70.3],
    [70.6, 70.0, 69.7, 68.9, 70.0, 69.4], [70.9, 69.7, 69.4, 71.4, 69.7, 69.4],
    [68.9, 66.7, 66.4, 66.7, 69.4, 67.5], [65.6, 66.1, 65.8, 66.4, 65.6, 65.8],
    [66.4, 65.8, 65.3, 65.8, 66.1, 67.2], [67.8, 65.6, 65.6, 65.6, 65.3, 65.3],
    [65.0, 64.4, 63.9, 67.2, 64.2, 63.9], [63.6, 63.9, 63.6, 63.9, 66.7, 63.3],
    [63.3, 63.3, 63.3, 63.3, 63.1, 63.6], [66.7, 63.6, 63.3, 63.1, 63.9, 66.1],
    [64.0, 64.5, 65.0, 64.5, 64.2, 64.6], [65.3, 64.6, 64.4, 64.2, 64.4, 64.2],
    [65.0, 64.8, 64.4, 64.6, 64.2, 64.4], [64.8, 64.6, 64.2, 66.2, 66.6, 65.1],
    [65.1, 64.6, 65.6, 64.6, 64.2, 65.6], [64.6, 65.1, 64.4, 64.6, 64.2, 63.9],
    [65.8, 66.1, 65.9, 66.5, 66.8, 66.6], [66.8, 66.6, 66.5, 66.3, 66.8, 66.9],
    [66.4, 66.6, 67.1, 67.0, 67.3, 67.0], [66.9, 67.1, 67.0, 67.3, 67.1, 66.9],
    [65.8, 65.5, 67.9, 67.1, 66.5, 66.3], [66.6, 66.3, 66.8, 66.3, 65.8, 65.5],
]
bot_a = [
    [64.2, 63.9, 64.2, 64.4, 63.6, 61.7], [60.1, 60.3, 60.1, 60.1, 60.1, 60.3],
    [60.6, 60.6, 59.4, 59.7, 60.0, 61.1], [62.2, 61.1, 60.0, 60.6, 60.0, 59.7],
    [60.0, 60.3, 60.3, 60.6, 61.1, 60.0], [58.6, 58.6, 59.2, 61.7, 60.6, 58.9],
    [60.3, 59.4, 58.9, 59.4, 58.6, 58.3], [57.8, 57.8, 58.1, 58.6, 59.2, 60.0],
    [60.6, 59.7, 58.9, 60.0, 58.6, 58.1], [58.9, 59.4, 58.6, 58.9, 60.1, 58.3],
    [58.6, 58.6, 58.9, 59.4, 58.6, 58.3], [60.0, 58.6, 58.3, 58.3, 58.9, 59.2],
    [58.9, 58.6, 58.6, 58.3, 58.7, 59.2], [59.3, 59.0, 58.7, 58.5, 58.5, 58.7],
    [59.5, 58.8, 58.3, 58.3, 58.5, 58.5], [58.7, 58.5, 58.8, 59.8, 60.5, 60.6],
    [58.8, 58.0, 58.5, 59.5, 58.7, 58.0], [58.2, 58.2, 58.2, 58.0, 58.2, 58.3],
    [59.3, 59.4, 59.0, 58.9, 58.8, 58.8], [58.7, 58.5, 58.6, 58.5, 59.5, 60.2],
    [60.4, 60.8, 61.3, 61.7, 61.8, 61.7], [61.6, 61.8, 61.9, 62.0, 62.2, 61.5],
    [59.5, 59.0, 61.5, 59.5, 58.6, 58.3], [58.2, 58.0, 57.9, 57.8, 57.6, 58.0],
]
# bottom panel: 15 s min/max envelope (max at 5-min steps, min at 10-min steps)
env_max = [
    [76, 80, 77, 82, 78, 84, 79, 81, 77, 83, 80, 84],
    [79, 85, 78, 82, 86, 80, 84, 79, 83, 81, 85, 80],
    [86, 79, 84, 81, 78, 85, 80, 83, 79, 87, 81, 84],
    [80, 83, 86, 79, 84, 81, 85, 79, 88, 82, 84, 80],
    [76, 72, 70, 69, 70, 75, 73, 72, 70, 72, 70, 69],
    [70, 69, 71, 70, 73, 71, 72, 76, 74, 71, 70, 72],
    [71, 73, 70, 72, 77, 75, 80, 73, 82, 78, 84, 76],
    [79, 75, 72, 74, 71, 70, 69, 70, 69, 68, 69, 68],
    [67, 68, 67, 67, 68, 71, 69, 67, 68, 67, 67, 68],
    [67, 66, 66, 66, 67, 67, 72, 75, 70, 66, 65, 66],
    [65, 66, 65, 65, 66, 65, 66, 65, 66, 65, 66, 65],
    [74, 78, 69, 67, 66, 66, 65, 67, 66, 66, 67, 69],
    [72, 77, 70, 68, 75, 69, 73, 68, 69, 67, 71, 68],
    [78, 69, 68, 67, 72, 67, 68, 70, 74, 69, 68, 70],
    [73, 68, 77, 69, 68, 71, 74, 69, 72, 76, 69, 72],
    [75, 70, 69, 71, 73, 76, 85, 81, 77, 72, 70, 76],
    [76, 70, 69, 74, 70, 73, 69, 72, 71, 75, 69, 79],
    [78, 72, 70, 74, 77, 71, 69, 70, 73, 69, 76, 71],
    [73, 76, 79, 75, 80, 78, 77, 74, 81, 79, 76, 75],
    [77, 81, 75, 78, 79, 76, 80, 77, 74, 78, 81, 76],
    [80, 75, 77, 73, 76, 79, 75, 74, 78, 76, 80, 75],
    [77, 74, 79, 76, 73, 78, 75, 77, 73, 76, 78, 74],
    [79, 73, 72, 78, 74, 71, 77, 80, 76, 79, 75, 77],
    [80, 77, 76, 79, 75, 77, 80, 78, 76, 79, 74, 76],
]
env_min = [
    [70, 70, 70.5, 69, 67, 67], [66.5, 67, 66.5, 67, 66.5, 66.5],
    [67, 66.5, 66, 66.5, 67, 66.5], [66.5, 66, 66.5, 66.5, 66, 66.5],
    [66, 65.5, 65.5, 65.5, 66.5, 65.5], [64.5, 64.5, 64.5, 65, 64.5, 64.5],
    [65, 64.5, 64, 64.5, 64.5, 65], [65.5, 64.5, 64.5, 64.5, 64, 64],
    [64, 63.5, 63, 64, 63.5, 63], [62.5, 63, 62.5, 63, 64, 62.5],
    [62.5, 62.5, 62.5, 62.5, 62.5, 62.5], [63.5, 62.5, 62.5, 62.5, 63, 63.5],
    [63.5, 63, 63, 63, 63, 63], [64, 63, 63, 63, 63, 63],
    [63.5, 63.5, 63, 63, 63, 63], [63.5, 63, 63, 64, 64.5, 63.5],
    [63.5, 63, 64, 63, 63, 64], [63, 63.5, 63, 63, 62.5, 62.5],
    [64.5, 64.5, 64.5, 65, 65, 65], [65, 65, 65, 65, 65, 65],
    [65, 65, 65.5, 65.5, 65.5, 65.5], [65.5, 65.5, 65.5, 65.5, 65.5, 65.5],
    [64.5, 64, 66, 65.5, 65, 65], [65, 65, 65, 65, 64.5, 64],
]

title_main = "data from [425/mic0]\nstarting point is [20240921_000050]"
title_top = "average and peak noise level (1 min sampling)"
title_bot = "average noise level (5 min with 15s min/max dB envelope)"

# ---------------- helpers ----------------
def flat(rows):
    return np.array([v for r in rows for v in r], dtype=float)

day0 = np.datetime64("2024-09-21T00:00:00")
day_end = np.datetime64("2024-09-21T23:59:00")
t_start = np.datetime64("2024-09-21T00:00:50")
t10 = t_start + np.arange(144) * np.timedelta64(10, "m")
t5 = t_start + np.arange(288) * np.timedelta64(5, "m")
t5_mid = t5 + np.timedelta64(150, "s")
t_peak = np.concatenate([t5, t5_mid])

BG = "#fff8dc"

fig = plt.figure(figsize=(24, 12), dpi=100)
fig.text(0.0098, 0.99, title_main, fontsize=10.2, fontweight="bold",
         va="top", ha="left", linespacing=1.0)

ax1 = fig.add_axes([0.02417, 0.510, 0.9521, 0.420])
ax2 = fig.add_axes([0.02417, 0.0425, 0.9521, 0.4208])


def style(ax, fmt):
    ax.set_facecolor(BG)
    ax.set_ylim(24, 108)
    ax.set_xlim(day0, day_end)
    ax.yaxis.set_major_locator(MultipleLocator(12))
    ax.yaxis.set_minor_locator(MultipleLocator(3))
    ax.xaxis.set_major_locator(mdates.HourLocator(interval=2))
    ax.xaxis.set_minor_locator(mdates.MinuteLocator(byminute=[0, 30]))
    ax.xaxis.set_major_formatter(mdates.DateFormatter(fmt))
    ax.grid(which="major", color="#b0b0b0", lw=1.3, ls="-", zorder=0)
    ax.grid(which="minor", color="#c8c8c8", lw=0.8, ls="--", zorder=0)
    ax.set_axisbelow(True)
    ax.tick_params(labelsize=7)
    ax.set_ylabel("dB SPL", fontsize=9)
    ax.set_xlabel("time", fontsize=9)
    for s in ax.spines.values():
        s.set_linewidth(1.2)
    tw = ax.twinx()
    tw.set_ylim(24, 108)
    tw.yaxis.set_major_locator(MultipleLocator(12))
    tw.yaxis.set_minor_locator(MultipleLocator(3))
    tw.tick_params(labelsize=7)
    tw.set_ylabel("dB SPL", fontsize=9)
    return tw


style(ax1, "%H:%M")
style(ax2, "%H:%M:%S")

# ---- top panel ----
ms = 3.2
pz = np.concatenate([flat(peak_z), flat(peak_z_mid)])
pc = np.concatenate([flat(peak_c), flat(peak_c_mid)])
pa = np.concatenate([flat(peak_a), flat(peak_a_mid)])
ax1.plot(t_peak, pz, ls="none", marker=".", ms=ms, color="dodgerblue", label="peak dB(Z)", zorder=3)
ax1.plot(t_peak, pc, ls="none", marker=".", ms=ms, color="magenta", label="peak dB(C)", zorder=3)
ax1.plot(t_peak, pa, ls="none", marker=".", ms=ms, color="seagreen", label="peak dB(A)", zorder=3)
ax1.plot(t5, flat(avg_z), color="steelblue", lw=1.3, label="avg dB(Z)", zorder=4)
ax1.plot(t5, flat(avg_c), color="orchid", lw=1.3, label="avg dB(C)", zorder=4)
ax1.plot(t5, flat(avg_a), color="yellowgreen", lw=1.3, label="avg dB(A)", zorder=4)
leg1 = ax1.legend(loc="lower right", ncol=2, fontsize=7.5, markerscale=1.9,
                  facecolor=BG, edgecolor="burlywood", framealpha=0.9,
                  handlelength=2.2, columnspacing=1.6)
for ln in leg1.get_lines():
    ln.set_linewidth(3)
ax1.set_title(title_top, loc="left", fontsize=8.4, fontweight="bold")

# ---- bottom panel ----
env_x = np.concatenate([t5, t10[::-1]])
env_y = np.concatenate([flat(env_max), flat(env_min)[::-1]])
ax2.fill(env_x, env_y, color="#f4b6a0", alpha=0.45, lw=0, zorder=2)
ax2.plot(t10, flat(bot_z), color="crimson", lw=1.3, label="dB(Z)", zorder=4)
ax2.plot(t10, flat(bot_c), color="darkorange", lw=1.3, label="dB(C)", zorder=4)
ax2.plot(t10, flat(bot_a), color="gold", lw=1.3, label="dB(A)", zorder=4)
leg2 = ax2.legend(loc="lower right", fontsize=7.5, facecolor=BG,
                  edgecolor="burlywood", framealpha=0.9, handlelength=2.2)
for ln in leg2.get_lines():
    ln.set_linewidth(3)
ax2.set_title(title_bot, loc="left", fontsize=8.4, fontweight="bold")

fig.savefig("out.png", dpi=100)
